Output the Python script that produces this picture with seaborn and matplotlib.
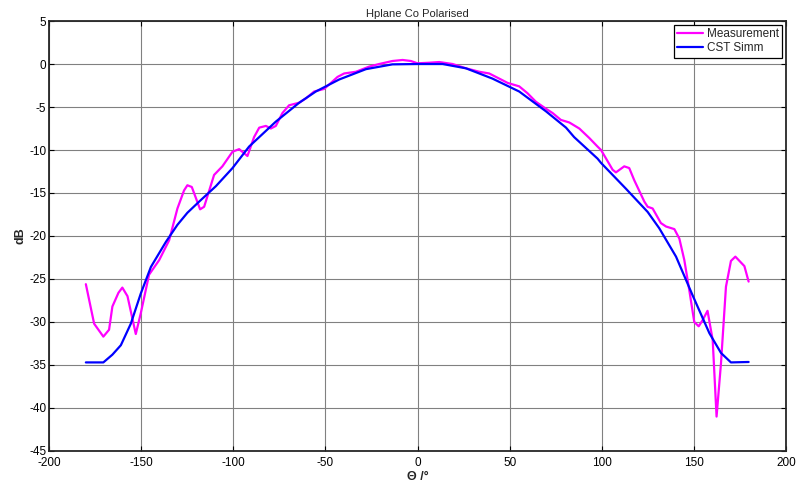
import numpy as np
import pandas as pd
import seaborn as sns
import matplotlib
matplotlib.use("Agg")
import matplotlib.pyplot as plt

# values
meas_theta = [-180, -175.5, -170.5, -167.4, -165.6, -162.3, -160.2, -157.4, -152.9, -150.2,
              -145.7, -140.2, -134.8, -130.3, -126.7, -124.9, -122.5, -118, -115.8, -110.4,
              -105.9, -100.4, -96.8, -92.3, -88.7, -85.9, -82.3, -79.6, -76.9, -73.3,
              -69.7, -64.2, -60.6, -56.1, -50.7, -47, -43.4, -39.8, -33.4, -26.2,
              -20.8, -13.6, -8.1, -3.6, 0, 6.4, 11.8, 19, 26.3, 33.5,
              38.9, 44.4, 48.9, 55.2, 59.7, 64.3, 69.7, 73.3, 77.8, 82.4,
              87.8, 93.2, 97.7, 99.6, 105.9, 107.7, 112.2, 114.9, 117.6, 123.1,
              124.9, 127.6, 132.1, 134.9, 139.4, 142.1, 144.8, 147.5, 150.2, 152.6,
              154.7, 157.4, 160.2, 162.3, 164.7, 167.4, 170.1, 172.5, 177.4, 179.7]
meas_db = [-25.6, -30.2, -31.7, -30.9, -28.2, -26.6, -26.0, -27.0, -31.4, -29.0,
           -24.5, -22.8, -20.5, -16.8, -14.7, -14.1, -14.3, -16.9, -16.6, -12.9,
           -11.9, -10.2, -9.9, -10.7, -8.5, -7.4, -7.2, -7.5, -7.2, -5.7,
           -4.8, -4.5, -4.0, -3.2, -2.9, -2.2, -1.5, -1.1, -0.9, -0.3,
           0.0, 0.35, 0.47, 0.35, 0.08, 0.15, 0.23, 0.0, -0.5, -0.9,
           -1.1, -1.7, -2.2, -2.6, -3.4, -4.4, -5.2, -5.7, -6.5, -6.8,
           -7.5, -8.6, -9.6, -10.0, -12.3, -12.6, -11.9, -12.1, -13.5, -16.0,
           -16.6, -16.8, -18.5, -18.9, -19.2, -20.3, -22.8, -26.3, -30.0, -30.5,
           -29.8, -28.7, -32.1, -41.0, -34.8, -25.9, -22.9, -22.4, -23.5, -25.3]

cst_theta = [-180, -170.5, -165.6, -161, -155.6, -150.2, -144.7, -136.6, -130.3, -124.9,
             -118.5, -109.4, -100.4, -91.4, -76.9, -64.2, -55.2, -42.5, -28, -13.6,
             0, 13.6, 26.3, 40.7, 55.2, 69.7, 80.6, 85, 97.7, 99.6,
             113.1, 124.9, 131.2, 140.3, 149.3, 158.4, 164.7, 170.1, 179.7]
cst_db = [-34.7, -34.7, -33.8, -32.7, -30.2, -26.7, -23.6, -20.7, -18.7, -17.3,
          -16.0, -14.2, -12.1, -9.6, -6.7, -4.5, -3.2, -1.8, -0.6, -0.04,
          0.0, 0.0, -0.5, -1.7, -3.2, -5.5, -7.4, -8.5, -11.0, -11.5,
          -14.5, -17.2, -19.1, -22.4, -26.9, -31.3, -33.6, -34.7, -34.65]

df = pd.concat([
    pd.DataFrame({"theta": meas_theta, "dB": meas_db, "series": "Measurement"}),
    pd.DataFrame({"theta": cst_theta, "dB": cst_db, "series": "CST Simm"}),
], ignore_index=True)

sns.set_style("ticks")
plt.rcParams["font.family"] = ["Liberation Sans", "DejaVu Sans"]
plt.rcParams["font.size"] = 8
plt.rcParams["axes.unicode_minus"] = False
plt.rcParams["xtick.direction"] = "in"
plt.rcParams["ytick.direction"] = "in"
plt.rcParams["xtick.top"] = True
plt.rcParams["ytick.right"] = True
plt.rcParams["axes.linewidth"] = 1.3

fig = plt.figure(figsize=(7.98, 4.84), dpi=100, facecolor="w")
ax = fig.add_axes([0.0614, 0.0682, 0.9236, 0.8884])

sns.lineplot(data=df, x="theta", y="dB", hue="series", sort=False,
             palette={"Measurement": "#FF00FF", "CST Simm": "#0000FF"},
             linewidth=1.6, ax=ax, estimator=None)

ax.set_xlim(-200, 200)
ax.set_ylim(-45, 5)
ax.set_xticks(np.arange(-200, 201, 50))
ax.set_yticks(np.arange(-45, 6, 5))
ax.grid(True, color="#808080", lw=0.8, ls="-")
ax.tick_params(labelsize=8.5, length=3.5, width=0.8, colors="k")
ax.tick_params(axis="x", pad=4)
ax.tick_params(axis="y", pad=2)
ax.set_title("Hplane Co Polarised", fontsize=8, pad=3)
ax.set_xlabel("\u0398 /\u00b0", fontsize=9, fontweight="bold", labelpad=2)
ax.set_ylabel("dB", fontsize=9, fontweight="bold", labelpad=2)

leg = ax.legend(loc="upper right", fontsize=8.5, frameon=True, fancybox=False,
                edgecolor="k", framealpha=1, borderaxespad=0.3, handlelength=2.2,
                handletextpad=0.3, borderpad=0.3, labelspacing=0.2)
leg.get_frame().set_linewidth(0.9)
leg.set_title(None)

fig.savefig("out.png", dpi=100)
